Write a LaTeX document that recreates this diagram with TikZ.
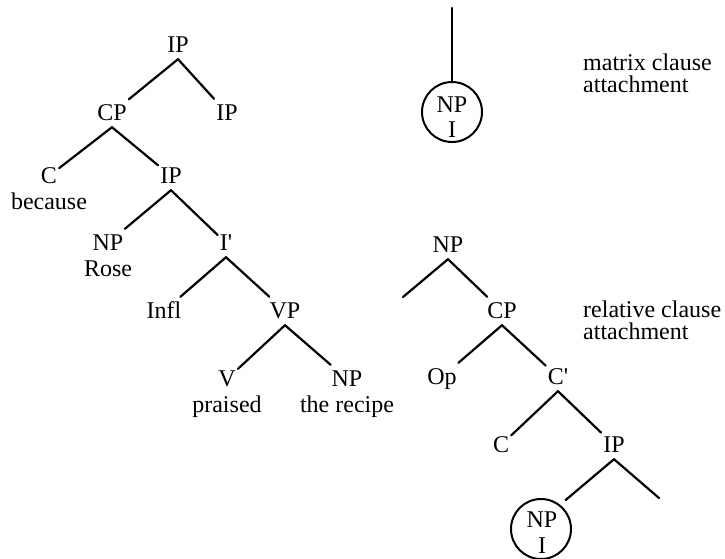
\documentclass[tikz,border=0pt]{standalone}
\usepackage{fontspec}
\setmainfont{Liberation Serif}
\usetikzlibrary{positioning}
\tikzset{
    % category label (IP, CP, NP ...)
    cat/.style = {inner xsep=2pt, inner ysep=5pt, text height=16pt, text depth=2pt, font=\fontsize{24}{22}\selectfont},
    % word under a category
    word/.style = {inner sep=0pt, text height=16pt, text depth=5pt, font=\fontsize{24}{22}\selectfont},
    % tree branch
    branch/.style = {draw, line width=2.2pt, line cap=round},
    % circled NP
    ring/.style = {draw, circle, line width=2pt, minimum size=60pt, inner sep=0pt},
    % side note
    note/.style = {anchor=base west, inner sep=0pt, text height=14pt, text depth=0pt, font=\fontsize{24}{22}\selectfont}
}

\begin{document}
\begin{tikzpicture}[x=1pt, y=-1pt]
\useasboundingbox (0,0) rectangle (725,558);

% left tree
\foreach \i/\x/\y/\lab in {IPa/178/45/IP,CPa/112/113/CP,IPb/227/113/IP,Ca/49/176/C,IPc/171/176/IP,NPa/108/243/NP,Ibar/226/243/{I\textquotesingle},Infl/164/311/Infl,VP/285/311/VP,Va/227/379/V,NPb/347/379/NP}
  \node [cat] (\i) at (\x,\y) {\lab};

\node [word, below=3pt of Ca] (because) {because};
\node [word, below=3pt of NPa] (rose) {Rose};
\node [word, below=3pt of Va] (praised) {praised};
\node [word, below=3pt of NPb] (recipe) {the recipe};

\foreach \a/\b in {IPa/CPa,IPa/IPb,CPa/Ca,CPa/IPc,IPc/NPa,IPc/Ibar,Ibar/Infl,Ibar/VP,VP/Va,VP/NPb}
  \draw [branch] (\a.south) -- (\b);

% right tree
\foreach \i/\x/\y/\lab in {NPc/448/245/NP,CPb/502/311/CP,Op/442/377/Op,Cbar/558/377/{C\textquotesingle},Cb/501/445/C,IPd/614/445/IP,NPd/542/520/NP,Id/542/546/I}
  \node [cat] (\i) at (\x,\y) {\lab};
\node [ring] (ringB) at (541,529) {};

\coordinate (cutL) at (403,297);
\coordinate (cutR) at (659,498);

\foreach \a/\b in {NPc/CPb,CPb/Op,CPb/Cbar,Cbar/Cb,Cbar/IPd}
  \draw [branch] (\a.south) -- (\b);
\draw [branch] (NPc.south) -- (cutL);
\draw [branch] (IPd.south) -- (cutR);
\draw [branch, shorten >=9pt] (IPd.south) -- (NPd);

% matrix attachment
\node [ring] (ringA) at (452,112) {};
\node [cat] (NPe) at (452,105) {NP};
\node [cat] (Ie) at (452,130) {I};
\coordinate (top) at (452,8);
\draw [branch] (top) -- (ringA.north);

% notes
\foreach \i/\y/\txt in {m1/70/matrix clause,m2/92/attachment,r1/317/relative clause,r2/339/attachment}
  \node [note] (\i) at (583,\y) {\txt};

\end{tikzpicture}
\end{document}
